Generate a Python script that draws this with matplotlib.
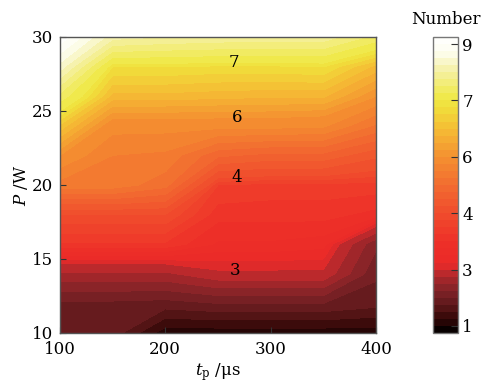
import numpy as np
import matplotlib
matplotlib.use('Agg')
import matplotlib.pyplot as plt
from matplotlib.colors import ListedColormap, BoundaryNorm
from matplotlib.cm import ScalarMappable

# pulse width (us) and laser power (W)
t_p = [100, 150, 200, 250, 300, 350, 400]
power = [10, 12, 14, 16, 18, 20, 22, 24, 26, 28, 30]

# number, one row per power value
number = [
    [1.90, 1.90, 1.10, 1.10, 1.10, 1.10, 1.10],  # 10 W
    [1.94, 1.94, 1.90, 2.00, 2.00, 2.00, 1.85],  # 12 W
    [2.70, 2.70, 2.70, 2.95, 2.95, 2.95, 2.05],  # 14 W
    [3.60, 3.60, 3.60, 3.35, 3.35, 3.30, 2.30],  # 16 W
    [4.00, 4.00, 4.00, 3.55, 3.55, 3.55, 3.45],  # 18 W
    [5.40, 5.40, 5.10, 3.75, 3.70, 3.70, 3.70],  # 20 W
    [6.00, 5.50, 5.44, 4.80, 4.66, 4.66, 4.30],  # 22 W
    [6.60, 5.85, 5.85, 5.85, 5.85, 5.80, 5.20],  # 24 W
    [7.40, 6.45, 6.45, 6.42, 6.40, 6.40, 6.00],  # 26 W
    [8.40, 6.88, 6.88, 6.85, 6.85, 6.88, 6.45],  # 28 W
    [9.20, 8.10, 8.00, 7.94, 7.90, 7.90, 7.40],  # 30 W
]

bar_ticks = [1, 3, 4, 6, 7, 9]
label_levels = [3, 4, 6, 7]

plt.rcParams['font.family'] = 'DejaVu Serif'
plt.rcParams['mathtext.fontset'] = 'dejavuserif'

# colour bar ticks sit at equal steps, 8 bands per step
knots_u = [-1, 0, 1, 2, 3, 4, 5, 6]
knots_n = [-1, 1, 3, 4, 6, 7, 9, 11]
u_levels = np.arange(-0.125, 5.126, 0.125)
levels = np.interp(u_levels, knots_u, knots_n)

# colour ramp along the bar (position in step units)
ramp_u = [-0.125, 0.0, 0.06, 0.2, 0.35, 0.5, 0.7, 0.9, 1.0, 1.1, 1.5,
          2.0, 2.5, 3.0, 3.5, 3.9, 4.1, 4.5, 4.85, 5.125]
ramp_c = ['#050000', '#0a0000', '#260505', '#3e0c0c', '#5a1618', '#6e1e22',
          '#8c2428', '#b0282c', '#cc2a2c', '#ea2a28', '#ee3028', '#f04c2c',
          '#f26c30', '#f49030', '#f5bc34', '#f0e23c', '#f0ea50', '#f5f0a0',
          '#fdfdf0', '#ffffff']
rgb = np.array([matplotlib.colors.to_rgb(c) for c in ramp_c])
centers = (u_levels[:-1] + u_levels[1:]) / 2
band_colors = [tuple(np.interp(u, ramp_u, rgb[:, k]) for k in range(3)) for u in centers]
cmap = ListedColormap(band_colors)

fig = plt.figure(figsize=(4.86, 3.89), dpi=100)
ax = fig.add_axes([0.123, 0.144, 0.651, 0.761])
cax = fig.add_axes([0.891, 0.144, 0.0514, 0.761])

cf = ax.contourf(t_p, power, number, levels=levels, colors=band_colors)
cs = ax.contour(t_p, power, number, levels=label_levels, colors='k', linewidths=0)
txts = ax.clabel(cs, fmt='%d', fontsize=12, inline=False,
                 manual=[(266, 14.2), (268, 20.8), (268, 24.4), (265, 28.4)])
for t in txts:
    t.set_rotation(0)

ax.set_xlim(100, 400)
ax.set_ylim(10, 30)
ax.set_xticks([100, 200, 300, 400])
ax.set_yticks([10, 15, 20, 25, 30])
ax.tick_params(direction='in', length=4, width=0.8, color='#333333', labelsize=12)
ax.tick_params(axis='x', pad=6)
ax.tick_params(axis='y', pad=5)
for s in ax.spines.values():
    s.set_color('#555555')
    s.set_linewidth(1.0)
ax.set_xlabel(r'$t_\mathrm{p}$ /μs', fontsize=12, labelpad=2)
ax.set_ylabel(r'$P$ /W', fontsize=12, labelpad=1)

# bar drawn on the equal-step scale, labelled with the numbers
sm = ScalarMappable(norm=BoundaryNorm(u_levels, cmap.N), cmap=cmap)
tick_pos = np.interp(bar_ticks, knots_n, knots_u)
cb = fig.colorbar(sm, cax=cax, ticks=tick_pos)
cb.ax.set_yticklabels([str(v) for v in bar_ticks])
cb.ax.tick_params(direction='in', length=5, width=0.8, color='#333333', labelsize=12, pad=3)
cb.ax.minorticks_off()
cb.outline.set_edgecolor('#777777')
cb.outline.set_linewidth(1.0)
cax.set_title('Number', fontsize=12, pad=9)

fig.savefig('out.png', dpi=100)
